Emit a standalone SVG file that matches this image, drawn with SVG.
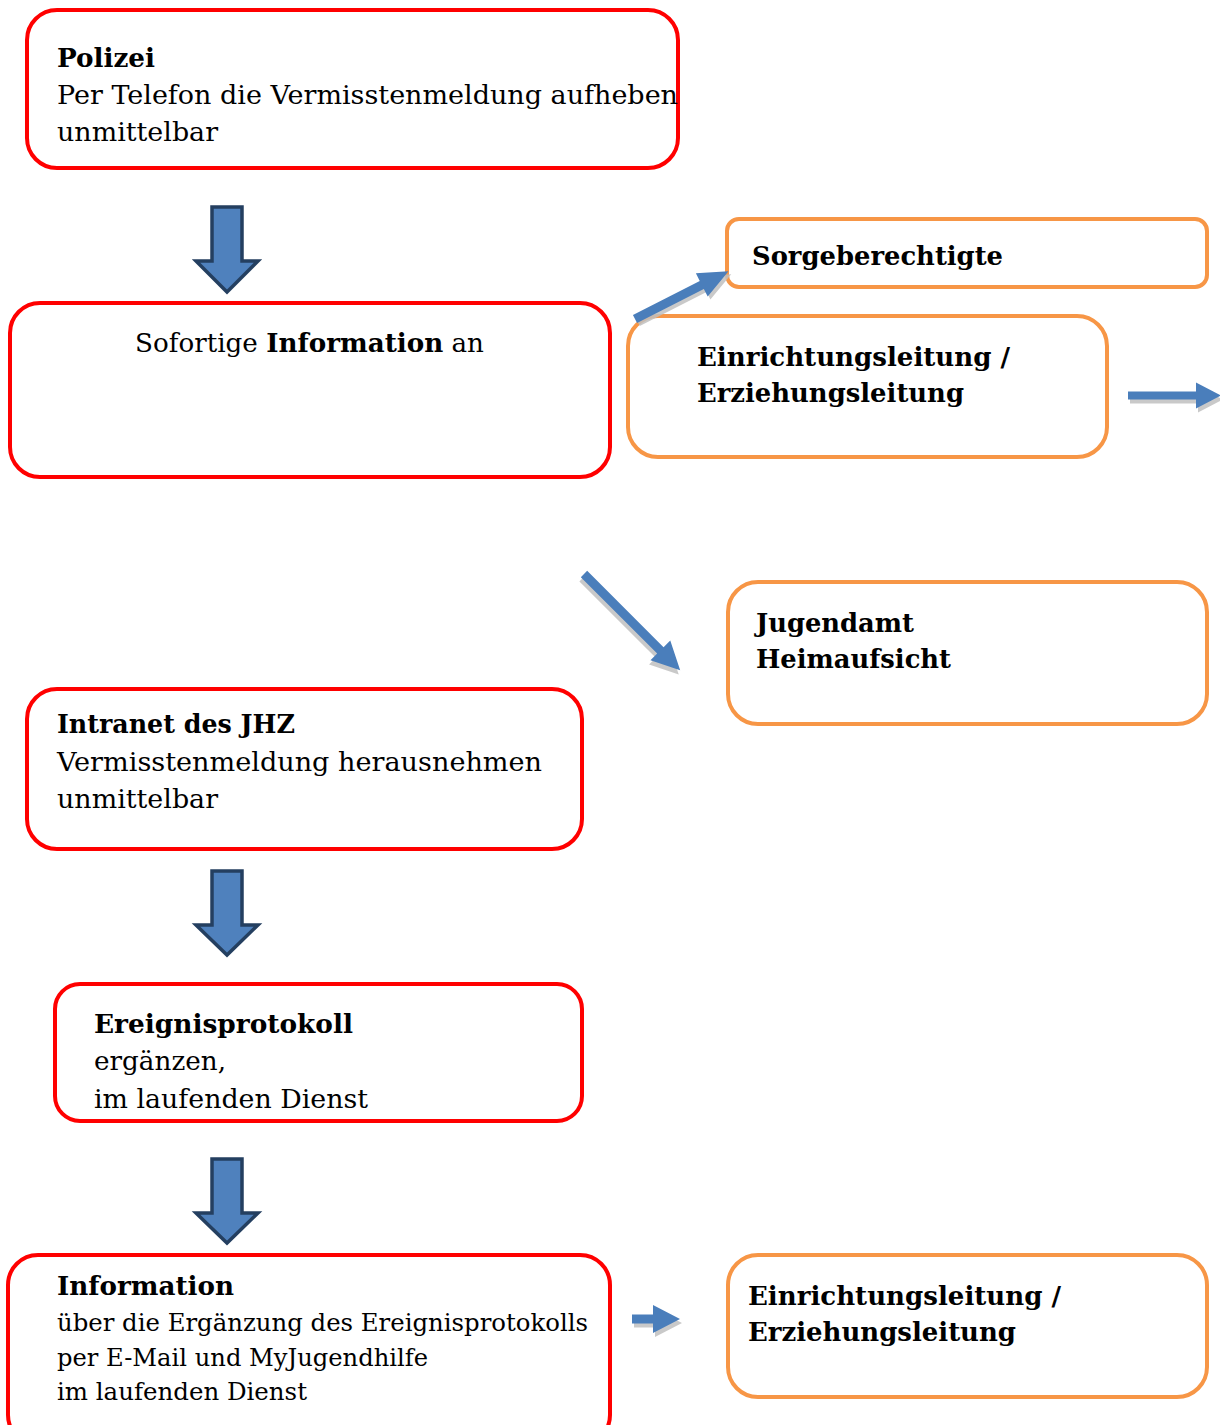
<svg xmlns="http://www.w3.org/2000/svg" width="1220" height="1425" viewBox="0 0 1220 1425">
  <style>
    .red { fill: #ffffff; stroke: #ff0000; stroke-width: 4; }
    .org { fill: #ffffff; stroke: #f79646; stroke-width: 4; }
    .t { font-family: "DejaVu Serif", "Liberation Serif", serif; font-size: 26px; fill: #000000; }
    .s { font-size: 25px; }
    .b { font-weight: bold; }
    .block { fill: #4f81bd; stroke: #243f60; stroke-width: 3.5; stroke-linejoin: miter; }
    .thin { fill: #4a7ebb; }
    .shadow { fill: #bfbfbf; opacity: 0.85; }
  </style>
  <defs>
    <!-- thin connector arrows, drawn along +x, tip at the end -->
    <path id="arrSorge" d="M0,-4.5 H75 V-13 L105,0 L75,13 V4.5 H0 Z"/>
    <path id="arrRight" d="M0,-4 H68 V-13 L93,0 L68,13 V4 H0 Z"/>
    <path id="arrDiag" d="M0,-4.5 H108 V-14 L136,0 L108,14 V4.5 H0 Z"/>
    <path id="arrSmall" d="M0,-4.5 H21 V-14 L48,0 L21,14 V4.5 H0 Z"/>
  </defs>

  <!-- nodes -->
  <g id="polizei">
    <rect class="red" x="27" y="10" width="651" height="158" rx="30"/>
    <text class="t b" x="57" y="67" textLength="98" lengthAdjust="spacingAndGlyphs">Polizei</text>
    <text class="t" x="57" y="104" textLength="621" lengthAdjust="spacingAndGlyphs">Per Telefon die Vermisstenmeldung aufheben</text>
    <text class="t" x="57" y="141" textLength="161" lengthAdjust="spacingAndGlyphs">unmittelbar</text>
  </g>

  <g id="sofortige-information">
    <rect class="red" x="10" y="303" width="600" height="174" rx="30"/>
    <text class="t" x="135" y="352" textLength="349" lengthAdjust="spacingAndGlyphs">Sofortige <tspan class="b">Information</tspan> an</text>
  </g>

  <g id="sorgeberechtigte">
    <rect class="org" x="727" y="219" width="480" height="68" rx="12"/>
    <text class="t b" x="752" y="265" textLength="251" lengthAdjust="spacingAndGlyphs">Sorgeberechtigte</text>
  </g>

  <g id="einrichtungsleitung-1">
    <rect class="org" x="628" y="316" width="479" height="141" rx="30"/>
    <text class="t b" x="697" y="366" textLength="313" lengthAdjust="spacingAndGlyphs">Einrichtungsleitung /</text>
    <text class="t b" x="697" y="402" textLength="267" lengthAdjust="spacingAndGlyphs">Erziehungsleitung</text>
  </g>

  <g id="jugendamt">
    <rect class="org" x="728" y="582" width="479" height="142" rx="30"/>
    <text class="t b" x="756" y="632" textLength="158" lengthAdjust="spacingAndGlyphs">Jugendamt</text>
    <text class="t b" x="756" y="668" textLength="195" lengthAdjust="spacingAndGlyphs">Heimaufsicht</text>
  </g>

  <g id="intranet">
    <rect class="red" x="27" y="689" width="555" height="160" rx="30"/>
    <text class="t b" x="57" y="733" textLength="238" lengthAdjust="spacingAndGlyphs">Intranet des JHZ</text>
    <text class="t" x="57" y="771" textLength="485" lengthAdjust="spacingAndGlyphs">Vermisstenmeldung herausnehmen</text>
    <text class="t" x="57" y="808" textLength="161" lengthAdjust="spacingAndGlyphs">unmittelbar</text>
  </g>

  <g id="ereignisprotokoll">
    <rect class="red" x="55" y="984" width="527" height="137" rx="25"/>
    <text class="t b" x="94" y="1033" textLength="259" lengthAdjust="spacingAndGlyphs">Ereignisprotokoll</text>
    <text class="t" x="94" y="1070" textLength="132" lengthAdjust="spacingAndGlyphs">ergänzen,</text>
    <text class="t" x="94" y="1108" textLength="274" lengthAdjust="spacingAndGlyphs">im laufenden Dienst</text>
  </g>

  <g id="information">
    <rect class="red" x="8" y="1255" width="602" height="190" rx="30"/>
    <text class="t b" x="57" y="1295" textLength="177" lengthAdjust="spacingAndGlyphs">Information</text>
    <text class="t s" x="57" y="1331" textLength="531" lengthAdjust="spacingAndGlyphs">über die Ergänzung des Ereignisprotokolls</text>
    <text class="t s" x="57" y="1366" textLength="371" lengthAdjust="spacingAndGlyphs">per E-Mail und MyJugendhilfe</text>
    <text class="t s" x="57" y="1400" textLength="250" lengthAdjust="spacingAndGlyphs">im laufenden Dienst</text>
  </g>

  <g id="einrichtungsleitung-2">
    <rect class="org" x="728" y="1255" width="479" height="142" rx="30"/>
    <text class="t b" x="748" y="1305" textLength="313" lengthAdjust="spacingAndGlyphs">Einrichtungsleitung /</text>
    <text class="t b" x="748" y="1341" textLength="268" lengthAdjust="spacingAndGlyphs">Erziehungsleitung</text>
  </g>

  <!-- connectors -->
  <g id="connectors">
    <!-- block arrows down the left column -->
    <polygon class="block" points="212,207 242,207 242,261 258,261 227,292 196,261 212,261"/>
    <polygon class="block" points="212,871 242,871 242,925 258,925 227,955 196,925 212,925"/>
    <polygon class="block" points="212,1159 242,1159 242,1213 258,1213 227,1243 196,1213 212,1213"/>

    <!-- to Sorgeberechtigte -->
    <g transform="translate(635,319) rotate(-27.05)">
      <use href="#arrSorge" class="shadow" transform="translate(1,4)"/>
      <use href="#arrSorge" class="thin"/>
    </g>
    <!-- out to the right of Einrichtungsleitung -->
    <g transform="translate(1128,395.5)">
      <use href="#arrRight" class="shadow" transform="translate(2,4)"/>
      <use href="#arrRight" class="thin"/>
    </g>
    <!-- to Jugendamt -->
    <g transform="translate(584,574) rotate(45)">
      <use href="#arrDiag" class="shadow" transform="translate(2,4)"/>
      <use href="#arrDiag" class="thin"/>
    </g>
    <!-- Information to Einrichtungsleitung -->
    <g transform="translate(632,1319)">
      <use href="#arrSmall" class="shadow" transform="translate(2,4)"/>
      <use href="#arrSmall" class="thin"/>
    </g>
  </g>
</svg>
